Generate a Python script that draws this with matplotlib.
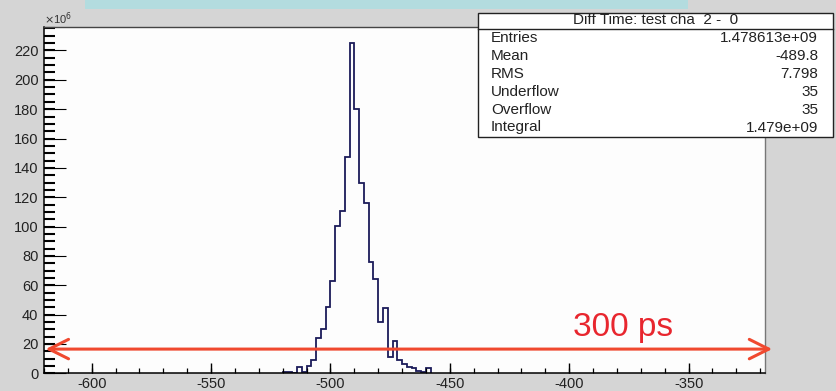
import numpy as np
import matplotlib
matplotlib.use("Agg")
import matplotlib.pyplot as plt
from matplotlib.patches import Rectangle, FancyArrowPatch
from matplotlib.ticker import MultipleLocator

plt.rcParams['font.family'] = ['Liberation Sans', 'DejaVu Sans']
plt.rcParams['axes.unicode_minus'] = False

# Time-difference histogram (counts in units of 1e6), 2 ps bins starting at -520
bin_start = -520
bin_width = 2
counts = [1.0, 1.0, 0.3, 4.0, 1.2, 4.8, 9.3, 24.0, 30.0, 45.2, 62.8, 100.5,
          110.8, 147.7, 225.4, 180.3, 129.7, 116.0, 76.0, 64.3, 35.2, 44.5,
          10.9, 21.8, 9.1, 6.5, 4.5, 3.8, 1.8, 0.9, 3.4]

x_range = (-620, -318)
y_range = (0, 236)
x_major_ticks = [-600, -550, -500, -450, -400, -350]
y_major_ticks = [0, 20, 40, 60, 80, 100, 120, 140, 160, 180, 200, 220]

stats_title = "Diff Time: test cha  2 -  0"
stats_names = ["Entries", "Mean", "RMS", "Underflow", "Overflow", "Integral"]
stats_values = ["1.478613e+09", "-489.8", "7.798", "35", "35", "1.479e+09"]

span_label = "300 ps"
span_y = 16.5

W, H = 836, 391
fig = plt.figure(figsize=(W / 100, H / 100), dpi=100)
fig.patch.set_facecolor('#d5d5d5')


def fx(px):
    return px / W


def fy(py):
    return 1 - py / H


# coloured strip along the top of the canvas
fig.add_artist(Rectangle((fx(85), fy(9)), fx(688) - fx(85), 1 - fy(9),
                         transform=fig.transFigure, facecolor='#b3dcdf',
                         edgecolor='none', zorder=0))

ax = fig.add_axes([fx(44), fy(373.3), fx(765) - fx(44), fy(27) - fy(373.3)])
ax.set_facecolor('#fdfdfd')

edges = bin_start + bin_width * np.arange(len(counts) + 1)
ax.stairs(counts, edges, color='#1c1c5a', linewidth=1.3, baseline=0)

ax.set_xlim(*x_range)
ax.set_ylim(*y_range)
ax.set_xticks(x_major_ticks)
ax.set_yticks(y_major_ticks)
ax.xaxis.set_minor_locator(MultipleLocator(10))
ax.yaxis.set_minor_locator(MultipleLocator(5))
ax.yaxis.remove_overlapping_locs = False
ax.xaxis.remove_overlapping_locs = False

ax.tick_params(axis='both', which='both', direction='in', colors='black',
               labelsize=10.5, top=False, right=False)
ax.tick_params(axis='y', which='major', length=16, width=0.8, pad=4)
ax.tick_params(axis='y', which='minor', length=8, width=1.5)
ax.tick_params(axis='x', which='major', length=7.5, width=1.0, pad=3)
ax.tick_params(axis='x', which='minor', length=3.5, width=0.9)
for lab in ax.get_xticklabels() + ax.get_yticklabels():
    lab.set_color('#222222')

for side in ('left', 'bottom'):
    ax.spines[side].set_color('black')
    ax.spines[side].set_linewidth(1.1)
ax.spines['top'].set_color('#444444')
ax.spines['top'].set_linewidth(1.0)
ax.spines['right'].set_color('#777777')
ax.spines['right'].set_linewidth(1.0)

fig.text(fx(44), fy(19), r"$\times$10$^6$", fontsize=8, color='#333333',
         ha='left', va='center')

# 300 ps span arrow
arrow = FancyArrowPatch((-619.3, span_y), (-315.0, span_y),
                        arrowstyle='<->,head_length=14,head_width=7',
                        mutation_scale=1, color='#f0492f', linewidth=2.2,
                        shrinkA=0, shrinkB=0, clip_on=False, zorder=5)
ax.add_patch(arrow)
ax.text(-377.5, span_y + 4, span_label, color='#e8262e', fontsize=24,
        ha='center', va='bottom', zorder=6)

# statistics box
bx0, bx1, by0, by1, bsep = 478, 833, 12.7, 137, 29
fig.add_artist(Rectangle((fx(bx0), fy(by1)), fx(bx1) - fx(bx0), fy(by0) - fy(by1),
                         transform=fig.transFigure, facecolor='white',
                         edgecolor='#222222', linewidth=1.0, zorder=10))
fig.add_artist(plt.Line2D([fx(bx0), fx(bx1)], [fy(bsep), fy(bsep)],
                          transform=fig.transFigure, color='#222222',
                          linewidth=1.0, zorder=11))
fig.text(fx((bx0 + bx1) / 2), fy(20.5), stats_title, fontsize=11,
         ha='center', va='center', color='#222222', zorder=12)
for i, (name, val) in enumerate(zip(stats_names, stats_values)):
    yy = fy(38.5 + 17.8 * i)
    fig.text(fx(491), yy, name, fontsize=11, ha='left', va='center',
             color='#222222', zorder=12)
    fig.text(fx(818), yy, val, fontsize=11, ha='right', va='center',
             color='#222222', zorder=12)

fig.savefig('out.png', dpi=100, facecolor=fig.get_facecolor())
